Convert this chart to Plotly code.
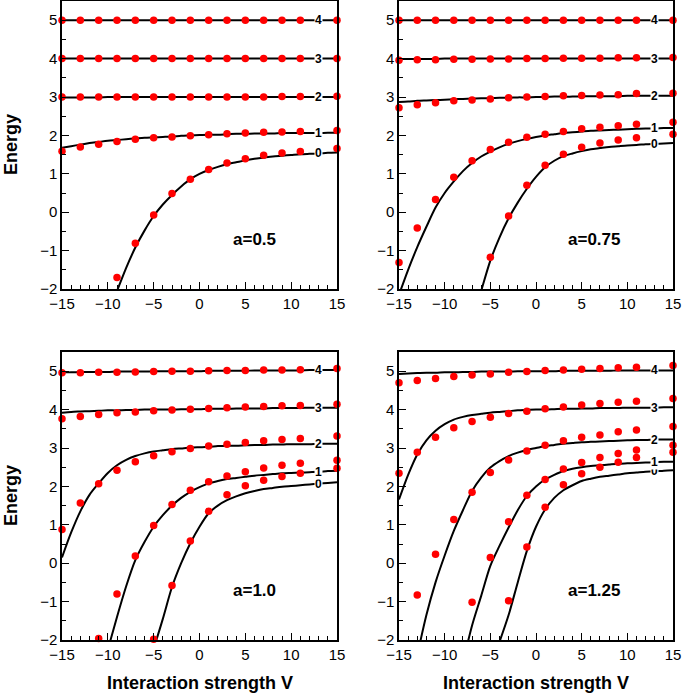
import plotly.graph_objects as go

# ---------------- data ----------------
V_LINE = list(range(-15, 16))
V_DOTS = [-15, -13, -11, -9, -7, -5, -3, -1, 1, 3, 5, 7, 9, 11, 15]
LEVEL_LABELS = ["0", "1", "2", "3", "4"]
PANEL_TITLES = ["a=0.5", "a=0.75", "a=1.0", "a=1.25"]
X_TICKS = [-15, -10, -5, 0, 5, 10, 15]
Y_TICKS = [-2, -1, 0, 1, 2, 3, 4, 5]

N = None

# black curves (levels 0..4), sampled at V_LINE
LINES_A050 = [
    [N, N, N, N, N, -2.6, -2.05, -1.45, -0.92, -0.48, -0.1, 0.2, 0.45, 0.67, 0.86, 1.0, 1.1, 1.18, 1.25, 1.3, 1.35, 1.39, 1.42, 1.45, 1.47, 1.49, 1.51, 1.52, 1.53, 1.545, 1.555],
    [1.68, 1.72, 1.76, 1.8, 1.83, 1.86, 1.88, 1.9, 1.92, 1.94, 1.95, 1.96, 1.97, 1.99, 2.0, 2.01, 2.02, 2.02, 2.03, 2.04, 2.04, 2.05, 2.05, 2.05, 2.06, 2.06, 2.06, 2.06, 2.06, 2.07, 2.07],
    [2.99, 2.99, 2.99, 2.99, 2.99, 3.0, 3.0, 3.0, 3.0, 3.0, 3.0, 3.0, 3.0, 3.0, 3.0, 3.0, 3.0, 3.0, 3.0, 3.0, 3.0, 3.0, 3.0, 3.0, 3.0, 3.0, 3.0, 3.0, 3.0, 3.0, 3.0],
    [4.0] * 31,
    [5.0] * 31,
]
DOTS_A050 = [
    [N, N, N, -1.7, -0.81, -0.07, 0.49, 0.86, 1.11, 1.28, 1.39, 1.48, 1.54, 1.58, 1.66],
    [1.59, 1.7, 1.77, 1.84, 1.9, 1.94, 1.96, 1.99, 2.02, 2.04, 2.06, 2.08, 2.09, 2.1, 2.13],
    [3.0, 3.0, 3.0, 3.0, 3.0, 3.0, 3.0, 3.0, 3.0, 3.0, 3.0, 3.0, 3.01, 3.01, 3.02],
    [4.0] * 15,
    [5.0] * 15,
]

LINES_A075 = [
    [N, N, N, N, N, N, N, N, -2.9, -2.05, -1.26, -0.66, -0.16, 0.25, 0.61, 0.92, 1.17, 1.34, 1.46, 1.53, 1.59, 1.64, 1.67, 1.7, 1.72, 1.74, 1.75, 1.77, 1.78, 1.79, 1.8],
    [-2.15, -1.5, -0.91, -0.38, 0.12, 0.5, 0.8, 1.07, 1.28, 1.45, 1.58, 1.69, 1.78, 1.85, 1.91, 1.96, 2.0, 2.03, 2.06, 2.08, 2.1, 2.12, 2.13, 2.14, 2.15, 2.16, 2.17, 2.18, 2.18, 2.19, 2.19],
    [2.87, 2.88, 2.9, 2.91, 2.92, 2.93, 2.94, 2.95, 2.96, 2.97, 2.97, 2.98, 2.98, 2.99, 2.99, 3.0, 3.0, 3.01, 3.01, 3.01, 3.02, 3.02, 3.02, 3.02, 3.02, 3.03, 3.03, 3.03, 3.03, 3.03, 3.03],
    [3.99, 3.99, 3.99, 3.99, 3.99, 4.0, 4.0, 4.0, 4.0, 4.0, 4.0, 4.0, 4.0, 4.0, 4.0, 4.0, 4.0, 4.0, 4.0, 4.0, 4.0, 4.0, 4.0, 4.0, 4.0, 4.0, 4.0, 4.0, 4.0, 4.0, 4.0],
    [5.0] * 31,
]
DOTS_A075 = [
    [N, N, N, N, N, -1.17, -0.1, 0.7, 1.22, 1.51, 1.69, 1.8, 1.88, 1.94, 2.03],
    [-1.31, -0.41, 0.33, 0.91, 1.34, 1.63, 1.82, 1.95, 2.03, 2.1, 2.17, 2.21, 2.25, 2.29, 2.34],
    [2.72, 2.8, 2.85, 2.9, 2.92, 2.95, 2.98, 3.0, 3.01, 3.03, 3.04, 3.05, 3.06, 3.09, 3.1],
    [3.96, 3.97, 3.97, 3.98, 3.98, 3.99, 3.99, 4.0, 4.0, 4.01, 4.01, 4.01, 4.02, 4.02, 4.03],
    [5.0] * 15,
]

LINES_A100 = [
    [N, N, N, N, N, N, N, N, N, N, -2.23, -1.45, -0.62, 0.0, 0.52, 0.95, 1.3, 1.5, 1.64, 1.74, 1.82, 1.88, 1.93, 1.96, 1.99, 2.01, 2.03, 2.05, 2.07, 2.09, 2.11],
    [N, N, N, N, N, -2.25, -1.4, -0.6, 0.08, 0.55, 0.95, 1.25, 1.5, 1.7, 1.86, 1.98, 2.08, 2.14, 2.19, 2.22, 2.25, 2.28, 2.3, 2.32, 2.34, 2.35, 2.36, 2.37, 2.38, 2.4, 2.41],
    [0.15, 0.8, 1.35, 1.78, 2.08, 2.35, 2.55, 2.69, 2.79, 2.86, 2.91, 2.94, 2.97, 2.99, 3.01, 3.02, 3.03, 3.05, 3.06, 3.06, 3.07, 3.08, 3.08, 3.09, 3.09, 3.1, 3.1, 3.1, 3.11, 3.11, 3.11],
    [3.92, 3.94, 3.95, 3.96, 3.97, 3.98, 3.98, 3.99, 3.99, 4.0, 4.0, 4.0, 4.0, 4.01, 4.01, 4.01, 4.02, 4.02, 4.02, 4.03, 4.03, 4.03, 4.03, 4.04, 4.04, 4.04, 4.04, 4.05, 4.05, 4.05, 4.05],
    [4.97, 4.97, 4.98, 4.98, 4.98, 4.98, 4.99, 4.99, 4.99, 4.99, 5.0, 5.0, 5.0, 5.0, 5.0, 5.0, 5.01, 5.01, 5.01, 5.01, 5.01, 5.02, 5.02, 5.02, 5.02, 5.02, 5.02, 5.03, 5.03, 5.03, 5.03],
]
DOTS_A100 = [
    [N, N, N, N, N, -1.98, -0.58, 0.58, 1.35, 1.78, 2.02, 2.16, 2.26, 2.34, 2.47],
    [N, N, -1.96, -0.8, 0.19, 0.98, 1.53, 1.9, 2.12, 2.27, 2.38, 2.48, 2.55, 2.6, 2.68],
    [0.88, 1.57, 2.07, 2.42, 2.64, 2.8, 2.9, 2.99, 3.05, 3.1, 3.14, 3.19, 3.22, 3.25, 3.31],
    [3.76, 3.82, 3.87, 3.92, 3.94, 3.97, 3.99, 4.01, 4.03, 4.05, 4.07, 4.08, 4.1, 4.11, 4.14],
    [4.96, 4.96, 4.97, 4.97, 4.98, 4.99, 5.0, 5.0, 5.01, 5.02, 5.02, 5.03, 5.03, 5.04, 5.07],
]

LINES_A125 = [
    [N, N, N, N, N, N, N, N, N, N, N, -2.05, -1.35, -0.5, 0.32, 0.95, 1.4, 1.7, 1.9, 2.03, 2.14, 2.2, 2.25, 2.28, 2.31, 2.34, 2.36, 2.38, 2.39, 2.41, 2.42],
    [N, N, N, N, N, N, N, -2.6, -1.62, -0.85, -0.07, 0.45, 0.93, 1.38, 1.75, 2.0, 2.18, 2.3, 2.4, 2.46, 2.5, 2.53, 2.55, 2.57, 2.59, 2.6, 2.61, 2.62, 2.63, 2.64, 2.64],
    [N, N, -2.4, -1.35, -0.5, 0.2, 0.84, 1.38, 1.88, 2.23, 2.49, 2.66, 2.79, 2.88, 2.95, 3.0, 3.05, 3.08, 3.11, 3.13, 3.15, 3.16, 3.17, 3.18, 3.19, 3.2, 3.21, 3.21, 3.22, 3.22, 3.22],
    [1.66, 2.3, 2.83, 3.2, 3.45, 3.62, 3.74, 3.81, 3.86, 3.89, 3.92, 3.94, 3.96, 3.98, 3.99, 4.0, 4.0, 4.01, 4.02, 4.02, 4.03, 4.03, 4.04, 4.04, 4.04, 4.05, 4.05, 4.05, 4.05, 4.06, 4.06],
    [4.93, 4.94, 4.95, 4.96, 4.96, 4.97, 4.97, 4.98, 4.98, 4.99, 4.99, 4.99, 4.99, 5.0, 5.0, 5.0, 5.0, 5.0, 5.01, 5.01, 5.01, 5.01, 5.01, 5.01, 5.02, 5.02, 5.02, 5.02, 5.02, 5.02, 5.02],
]
DOTS_A125 = [
    [N, N, N, N, N, N, -0.98, 0.42, 1.46, 2.04, 2.33, 2.5, 2.63, 2.75, 2.89],
    [N, N, N, N, -1.02, 0.15, 1.08, 1.77, 2.18, 2.45, 2.62, 2.75, 2.86, 2.95, 3.07],
    [N, -0.83, 0.23, 1.14, 1.85, 2.36, 2.69, 2.92, 3.07, 3.19, 3.28, 3.34, 3.42, 3.47, 3.56],
    [2.34, 2.89, 3.28, 3.53, 3.69, 3.8, 3.9, 3.96, 4.02, 4.07, 4.12, 4.16, 4.19, 4.22, 4.29],
    [4.7, 4.76, 4.81, 4.86, 4.9, 4.93, 4.97, 4.99, 5.02, 5.03, 5.05, 5.07, 5.09, 5.1, 5.15],
]

PANELS = [
    (LINES_A050, DOTS_A050),
    (LINES_A075, DOTS_A075),
    (LINES_A100, DOTS_A100),
    (LINES_A125, DOTS_A125),
]

# ---------------- layout ----------------
W, H = 685, 697
X_DOMAINS = [[62 / W, 337 / W], [399 / W, 673 / W]]
Y_DOMAINS = [[1 - 289 / H, 1 - 1 / H], [1 - 640 / H, 1 - 352 / H]]
FONT = "Liberation Sans, Arial, Helvetica, sans-serif"

fig = go.Figure()
annotations = []
label_x = 13

for p, (lines, dots) in enumerate(PANELS):
    row, col = divmod(p, 2)
    sfx = "" if p == 0 else str(p + 1)
    xa, ya = "x" + sfx, "y" + sfx
    for lvl, yv in enumerate(lines):
        fig.add_trace(go.Scatter(
            x=V_LINE, y=yv, mode="lines", xaxis=xa, yaxis=ya,
            line=dict(color="black", width=2, shape="spline", smoothing=0.8),
            showlegend=False, hoverinfo="skip"))
    for lvl, yv in enumerate(dots):
        fig.add_trace(go.Scatter(
            x=V_DOTS, y=yv, mode="markers", xaxis=xa, yaxis=ya,
            marker=dict(color="#ff0000", size=7.5),
            cliponaxis=False, showlegend=False))
    for lvl, yv in enumerate(lines):
        annotations.append(dict(
            x=label_x, y=yv[V_LINE.index(label_x)], xref=xa, yref=ya,
            text="<b>%s</b>" % LEVEL_LABELS[lvl], showarrow=False,
            bgcolor="white", borderpad=0,
            font=dict(family=FONT, size=12, color="black"),
            xanchor="center", yanchor="middle"))
    annotations.append(dict(
        x=6.0 if col == 0 else 6.4, y=-0.7, xref=xa, yref=ya,
        text="<b>%s</b>" % PANEL_TITLES[p], showarrow=False,
        font=dict(family=FONT, size=17, color="black")))

    axis_common = dict(showline=True, linecolor="black", linewidth=1.5,
                       mirror=True, ticks="inside", ticklen=7, tickwidth=1,
                       tickcolor="black", showgrid=False, zeroline=False,
                       automargin=False,
                       tickfont=dict(family=FONT, size=15, color="black"))
    fig.layout["xaxis" + sfx] = dict(
        domain=X_DOMAINS[col], range=[-15, 15], anchor=ya,
        tickvals=X_TICKS, minor=dict(dtick=1, tick0=0, ticks="inside", ticklen=4,
                                    tickcolor="black", tickwidth=1),
        **axis_common)
    fig.layout["yaxis" + sfx] = dict(
        domain=Y_DOMAINS[row], range=[-2, 5.5], anchor=xa,
        tickvals=Y_TICKS, minor=dict(dtick=0.5, tick0=0, ticks="inside", ticklen=4,
                                    tickcolor="black", tickwidth=1),
        **axis_common)

# axis titles
for yc in [(Y_DOMAINS[0][0] + Y_DOMAINS[0][1]) / 2, (Y_DOMAINS[1][0] + Y_DOMAINS[1][1]) / 2]:
    annotations.append(dict(x=11 / W, y=yc, xref="paper", yref="paper",
                            text="<b>Energy</b>", textangle=-90, showarrow=False,
                            font=dict(family=FONT, size=18, color="black"),
                            xanchor="center", yanchor="middle"))
for xd in X_DOMAINS:
    annotations.append(dict(x=(xd[0] + xd[1]) / 2, y=1 - 683 / H, xref="paper", yref="paper",
                            text="<b>Interaction strength V</b>", showarrow=False,
                            font=dict(family=FONT, size=18, color="black"),
                            xanchor="center", yanchor="middle"))

fig.update_layout(width=W, height=H, margin=dict(l=0, r=0, t=0, b=0),
                  paper_bgcolor="white", plot_bgcolor="white",
                  annotations=annotations, showlegend=False)

fig.write_html("out.html", config={"displayModeBar": False},
               post_script="document.body.style.margin='0px';document.body.style.overflow='hidden';")
